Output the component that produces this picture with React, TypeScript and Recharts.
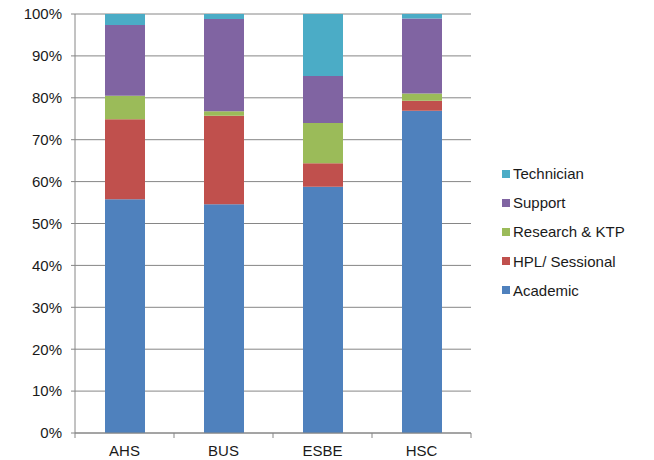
import { BarChart, Bar, XAxis, YAxis, CartesianGrid } from "recharts";

const CATEGORIES = ["AHS", "BUS", "ESBE", "HSC"];

// share of staff per group, in percent (each column sums to 100)
const ACADEMIC = [55.8, 54.6, 58.8, 76.9];
const HPL_SESSIONAL = [19.1, 21.1, 5.6, 2.4];
const RESEARCH_KTP = [5.6, 1.1, 9.6, 1.7];
const SUPPORT = [16.9, 22.0, 11.2, 17.9];
const TECHNICIAN = [2.6, 1.2, 14.8, 1.1];

const Y_TICKS = [0, 10, 20, 30, 40, 50, 60, 70, 80, 90, 100];

const SERIES = [
  { key: "academic", name: "Academic", values: ACADEMIC, color: "#4F81BD" },
  { key: "hpl", name: "HPL/ Sessional", values: HPL_SESSIONAL, color: "#C0504D" },
  { key: "research", name: "Research & KTP", values: RESEARCH_KTP, color: "#9BBB59" },
  { key: "support", name: "Support", values: SUPPORT, color: "#8064A2" },
  { key: "technician", name: "Technician", values: TECHNICIAN, color: "#4BACC6" },
];

const data = CATEGORIES.map((cat, i) => {
  const row: Record<string, string | number> = { cat };
  SERIES.forEach((s) => {
    row[s.key] = s.values[i];
  });
  return row;
});

const WIDTH = 654;
const HEIGHT = 460;
const MARGIN = { top: 14, right: 183, bottom: 0, left: 0 };
const Y_AXIS_W = 75;
const X_AXIS_H = 27;
const PLOT_W = WIDTH - MARGIN.left - MARGIN.right - Y_AXIS_W;
const FONT = "'Liberation Sans', Arial, sans-serif";
const GRID = "#868686";
const TEXT = "#1a1a1a";

// category label plus tick marks on the band boundaries
const CategoryTick = (props: any) => {
  const { x, y, payload, index } = props;
  const band = PLOT_W / CATEGORIES.length;
  const last = index === CATEGORIES.length - 1;
  return (
    <g>
      <line x1={x - band / 2} x2={x - band / 2} y1={y} y2={y + 5} stroke={GRID} />
      {last && <line x1={x + band / 2} x2={x + band / 2} y1={y} y2={y + 5} stroke={GRID} />}
      <text x={x} y={y + 23} textAnchor="middle" fontSize={15} fill={TEXT} fontFamily={FONT}>
        {payload.value}
      </text>
    </g>
  );
};

// legend lists the series top-down in reverse stacking order
const LegendBox = () => (
  <div
    style={{
      position: "absolute",
      left: 502,
      top: 159,
      fontFamily: FONT,
      fontSize: 15,
      color: TEXT,
    }}
  >
    {[...SERIES].reverse().map((s) => (
      <div key={s.key} style={{ display: "flex", alignItems: "center", height: 29.2 }}>
        <span style={{ width: 8, height: 8, background: s.color, marginRight: 3 }} />
        <span>{s.name}</span>
      </div>
    ))}
  </div>
);

export default function App() {
  return (
    <div style={{ position: "absolute", left: 0, top: 0, width: WIDTH, height: HEIGHT }}>
      <BarChart width={WIDTH} height={HEIGHT} data={data} margin={MARGIN}>
        <CartesianGrid vertical={false} stroke={GRID} strokeWidth={1} />
        <XAxis
          dataKey="cat"
          height={X_AXIS_H}
          stroke={GRID}
          tickLine={false}
          tickSize={0}
          tickMargin={0}
          tick={<CategoryTick />}
          interval={0}
        />
        <YAxis
          width={Y_AXIS_W}
          domain={[0, 100]}
          ticks={Y_TICKS}
          tickFormatter={(v: number) => `${v}%`}
          stroke={GRID}
          tickSize={4}
          tickMargin={9}
          tick={{ fontSize: 15, fill: TEXT, fontFamily: FONT }}
          allowDataOverflow
        />
        {SERIES.map((s) => (
          <Bar
            key={s.key}
            dataKey={s.key}
            name={s.name}
            stackId="staff"
            fill={s.color}
            barSize={40}
            isAnimationActive={false}
          />
        ))}
      </BarChart>
      <LegendBox />
    </div>
  );
}
